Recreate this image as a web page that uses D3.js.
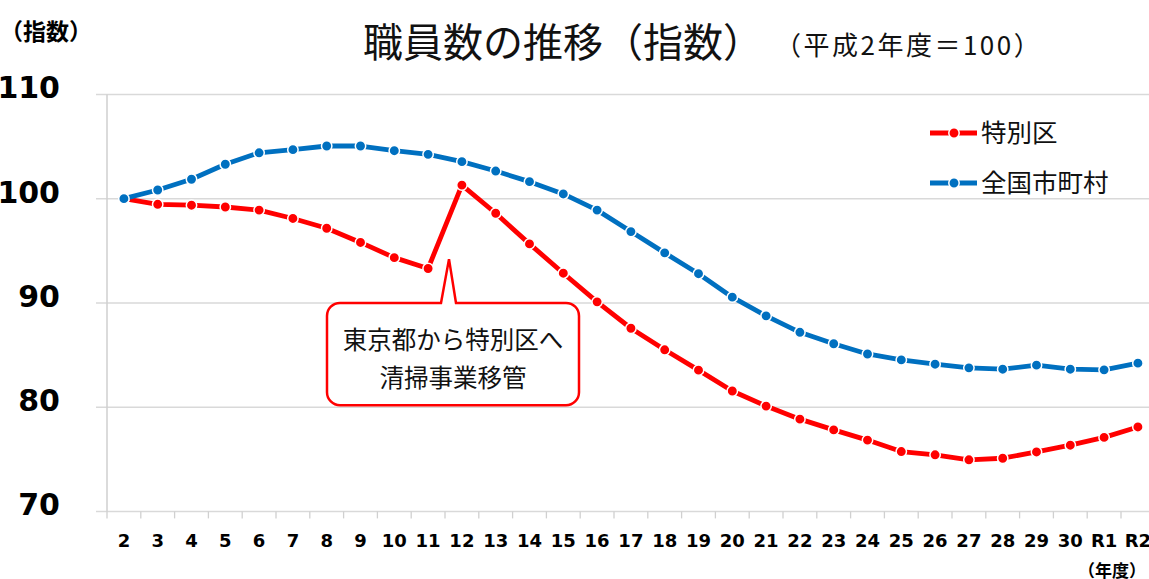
<!DOCTYPE html>
<html>
<head>
<meta charset="utf-8">
<script src="https://cdn.jsdelivr.net/npm/d3@7"></script>
<style>
  html, body { margin: 0; padding: 0; background: #fff; }
  svg { display: block; }
  .jp { font-family: "Noto Sans CJK JP", "Noto Sans", sans-serif; }
  .num { font-family: "DejaVu Sans", Verdana, sans-serif; font-weight: bold; }
</style>
</head>
<body>
<svg id="chart" width="1149" height="579"></svg>
<script>
// Fiscal years (平成2年度 … 令和2年度)
const years = ["2","3","4","5","6","7","8","9","10","11","12","13","14","15","16",
  "17","18","19","20","21","22","23","24","25","26","27","28","29","30","R1","R2"];

// Index of staff numbers, FY H2 = 100
const tokubetsuku = [100, 99.46, 99.37, 99.2, 98.9, 98.1, 97.16, 95.8, 94.34, 93.3,
  101.3, 98.6, 95.66, 92.85, 90.1, 87.57, 85.5, 83.55, 81.55, 80.1, 78.85, 77.82,
  76.84, 75.74, 75.43, 74.95, 75.1, 75.7, 76.35, 77.1, 78.1];
const zenkoku = [100, 100.83, 101.86, 103.3, 104.4, 104.7, 105.05, 105.05, 104.6, 104.25,
  103.55, 102.65, 101.63, 100.45, 98.9, 96.84, 94.8, 92.8, 90.55, 88.76, 87.18, 86.08,
  85.1, 84.53, 84.12, 83.77, 83.64, 84.03, 83.64, 83.58, 84.22];

const yTicks = [70, 80, 90, 100, 110];
const seriesNames = ["特別区", "全国市町村"];
const seriesColors = ["#FF0000", "#0070C0"];

const svg = d3.select("#chart");

const left = 107, band = 33.8;
const x = d3.scaleBand().domain(years).range([left, left + band * years.length]).paddingInner(0).paddingOuter(0);
const y = d3.scaleLinear().domain([70, 110]).range([511.4, 94.4]);
const cx = d => x(d) + x.bandwidth() / 2;

// Horizontal gridlines with short tick stubs to the left of the axis
svg.append("g").selectAll("line").data(yTicks).join("line")
  .attr("x1", 96).attr("x2", 1149)
  .attr("y1", d => y(d)).attr("y2", d => y(d))
  .attr("stroke", "#d9d9d9").attr("stroke-width", 1.5);

// Vertical axis line
svg.append("line")
  .attr("x1", left).attr("x2", left)
  .attr("y1", y(110)).attr("y2", y(70))
  .attr("stroke", "#cfcfcf").attr("stroke-width", 1.5);

// Y tick labels
svg.append("g").selectAll("text").data(yTicks).join("text")
  .attr("class", "num")
  .attr("x", 60).attr("y", d => y(d) + 4)
  .attr("text-anchor", "end")
  .attr("font-size", 30)
  .attr("fill", "#000")
  .text(d => d);

// X axis: ticks at category boundaries, labels centred under each year
const xAxis = d3.axisBottom(x).tickSize(0).tickPadding(0);
const xg = svg.append("g").attr("transform", `translate(0,${y(70)})`).call(xAxis);
xg.select(".domain").remove();
xg.selectAll("text")
  .attr("class", "num")
  .attr("font-size", 18)
  .attr("fill", "#000")
  .attr("y", 36)
  .attr("dy", 0);
svg.append("g").selectAll("line").data(years).join("line")
  .attr("x1", d => x(d)).attr("x2", d => x(d))
  .attr("y1", y(70)).attr("y2", y(70) + 7)
  .attr("stroke", "#d0d0d0").attr("stroke-width", 1.3);

// Axis titles
svg.append("text").attr("class", "jp")
  .attr("x", 0).attr("y", 40)
  .attr("font-size", 23).attr("font-weight", 700)
  .text("（指数）");
svg.append("text").attr("class", "jp")
  .attr("x", 1078).attr("y", 577)
  .attr("font-size", 17).attr("font-weight", 700)
  .text("（年度）");

// Chart title
svg.append("text").attr("class", "jp")
  .attr("x", 363).attr("y", 57)
  .attr("font-size", 40)
  .attr("fill", "#111")
  .text("職員数の推移（指数）");
svg.append("text").attr("class", "jp")
  .attr("x", 775).attr("y", 55)
  .attr("font-size", 26)
  .attr("letter-spacing", 2.5)
  .attr("fill", "#111")
  .text("（平成2年度＝100）");

// Callout box with a pointer towards the jump in FY H12
(function drawCallout() {
  const bx0 = 327, bx1 = 579, by0 = y(90), by1 = y(80) - 2, r = 13;
  const tipX = (cx("11") + cx("12")) / 2 + 4, tipY = y(94.2);
  const b0 = tipX - 8, b1 = tipX + 7;
  const p = d3.path();
  p.moveTo(bx0 + r, by0);
  p.lineTo(b0, by0);
  p.lineTo(tipX, tipY);
  p.lineTo(b1, by0);
  p.lineTo(bx1 - r, by0);
  p.arcTo(bx1, by0, bx1, by0 + r, r);
  p.lineTo(bx1, by1 - r);
  p.arcTo(bx1, by1, bx1 - r, by1, r);
  p.lineTo(bx0 + r, by1);
  p.arcTo(bx0, by1, bx0, by1 - r, r);
  p.lineTo(bx0, by0 + r);
  p.arcTo(bx0, by0, bx0 + r, by0, r);
  p.closePath();
  svg.append("path").attr("d", p.toString())
    .attr("fill", "#fff").attr("stroke", "#FF0000").attr("stroke-width", 2.5)
    .attr("stroke-linejoin", "miter");
  const midX = (bx0 + bx1) / 2;
  svg.append("text").attr("class", "jp")
    .attr("x", midX).attr("y", 349).attr("text-anchor", "middle")
    .attr("font-size", 24.5).attr("fill", "#111")
    .text("東京都から特別区へ");
  svg.append("text").attr("class", "jp")
    .attr("x", midX).attr("y", 387).attr("text-anchor", "middle")
    .attr("font-size", 24.5).attr("fill", "#111")
    .text("清掃事業移管");
})();

// Series lines and markers
const line = d3.line().x((d, i) => cx(years[i])).y(d => y(d));
[tokubetsuku, zenkoku].forEach((vals, k) => {
  const g = svg.append("g");
  g.append("path").datum(vals)
    .attr("d", line)
    .attr("fill", "none")
    .attr("stroke", seriesColors[k])
    .attr("stroke-width", 4.8)
    .attr("stroke-linejoin", "round");
  g.selectAll("circle").data(vals).join("circle")
    .attr("cx", (d, i) => cx(years[i]))
    .attr("cy", d => y(d))
    .attr("r", 5.2)
    .attr("fill", seriesColors[k])
    .attr("stroke", "#fff")
    .attr("stroke-width", 1.5);
});

// Legend
const legendY = [133, 183];
seriesNames.forEach((name, k) => {
  const g = svg.append("g");
  g.append("line").attr("x1", 930).attr("x2", 977)
    .attr("y1", legendY[k]).attr("y2", legendY[k])
    .attr("stroke", seriesColors[k]).attr("stroke-width", 4.8);
  g.append("circle").attr("cx", 954).attr("cy", legendY[k]).attr("r", 5.2)
    .attr("fill", seriesColors[k]).attr("stroke", "#fff").attr("stroke-width", 1.5);
  g.append("text").attr("class", "jp")
    .attr("x", 981).attr("y", legendY[k] + 9)
    .attr("font-size", 25.5).attr("fill", "#111")
    .text(name);
});
</script>
</body>
</html>
